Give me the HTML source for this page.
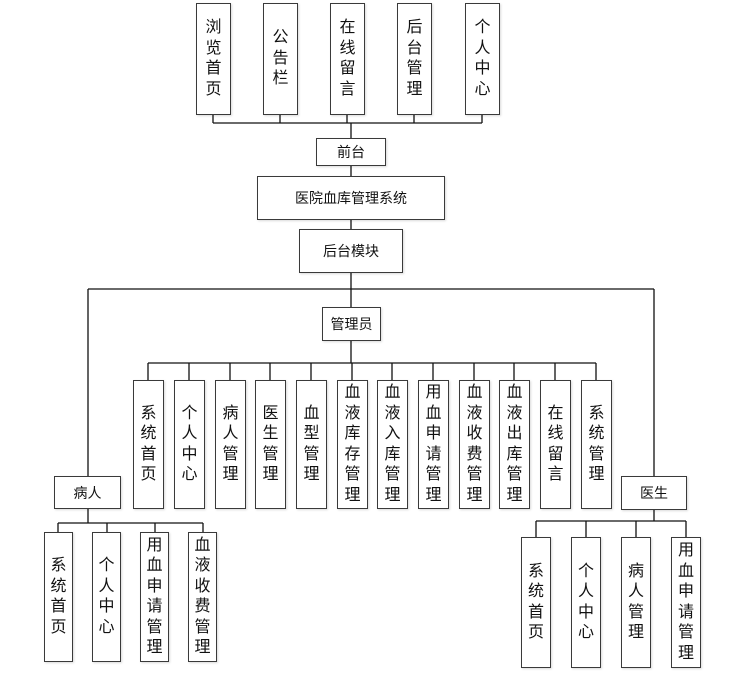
<!DOCTYPE html>
<html><head><meta charset="utf-8"><style>
html,body{margin:0;padding:0;background:#fff;}
body{width:746px;height:681px;position:relative;overflow:hidden;font-family:"Liberation Sans","Noto Sans CJK SC",sans-serif;color:#111;}
.b{position:absolute;box-sizing:border-box;border:1.5px solid #3a3a3a;background:#fff;display:flex;align-items:center;justify-content:center;text-align:center;box-shadow:1px 1px 2px rgba(0,0,0,0.15);}
.h{font-size:14px;}
.v{font-size:16px;line-height:20.5px;}
svg{position:absolute;left:0;top:0;}
</style></head><body>
<svg width="746" height="681" stroke="#111" stroke-width="1.3" fill="none">
<!-- top -->
<path d="M213 115V123M280 115V123M347 115V123M414 115V123M482 115V123M213 123H482M351 123V138"/>
<path d="M351 166V176M351 220V229M351 273V307"/>
<path d="M88 289H654M88 289V476M654 289V476"/>
<!-- admin -->
<path d="M351 341V363M148 363H596"/>
<path d="M148 363V380M189 363V380M230 363V380M270 363V380M311 363V380M352 363V380M392 363V380M433 363V380M474 363V380M514 363V380M555 363V380M596 363V380"/>
<!-- patient -->
<path d="M88 509V523M58 523H203M58 523V532M107 523V532M155 523V532M203 523V532"/>
<!-- doctor -->
<path d="M654 510V521M536 521H686M536 521V537M586 521V537M636 521V537M686 521V537"/>
</svg>

<div class="b v" style="left:196px;top:3px;width:35px;height:112px">浏<br>览<br>首<br>页</div>
<div class="b v" style="left:263px;top:3px;width:35px;height:112px">公<br>告<br>栏</div>
<div class="b v" style="left:330px;top:3px;width:35px;height:112px">在<br>线<br>留<br>言</div>
<div class="b v" style="left:397px;top:3px;width:35px;height:112px">后<br>台<br>管<br>理</div>
<div class="b v" style="left:465px;top:3px;width:35px;height:112px">个<br>人<br>中<br>心</div>

<div class="b h" style="left:316px;top:138px;width:70px;height:28px">前台</div>
<div class="b h" style="left:257px;top:176px;width:188px;height:44px">医院血库管理系统</div>
<div class="b h" style="left:299px;top:229px;width:104px;height:44px">后台模块</div>
<div class="b h" style="left:322px;top:307px;width:59px;height:34px">管理员</div>

<div class="b v" style="left:133px;top:380px;width:31px;height:129px">系<br>统<br>首<br>页</div>
<div class="b v" style="left:174px;top:380px;width:31px;height:129px">个<br>人<br>中<br>心</div>
<div class="b v" style="left:215px;top:380px;width:31px;height:129px">病<br>人<br>管<br>理</div>
<div class="b v" style="left:255px;top:380px;width:31px;height:129px">医<br>生<br>管<br>理</div>
<div class="b v" style="left:296px;top:380px;width:31px;height:129px">血<br>型<br>管<br>理</div>
<div class="b v" style="left:337px;top:380px;width:31px;height:129px">血<br>液<br>库<br>存<br>管<br>理</div>
<div class="b v" style="left:377px;top:380px;width:31px;height:129px">血<br>液<br>入<br>库<br>管<br>理</div>
<div class="b v" style="left:418px;top:380px;width:31px;height:129px">用<br>血<br>申<br>请<br>管<br>理</div>
<div class="b v" style="left:459px;top:380px;width:31px;height:129px">血<br>液<br>收<br>费<br>管<br>理</div>
<div class="b v" style="left:499px;top:380px;width:31px;height:129px">血<br>液<br>出<br>库<br>管<br>理</div>
<div class="b v" style="left:540px;top:380px;width:31px;height:129px">在<br>线<br>留<br>言</div>
<div class="b v" style="left:581px;top:380px;width:31px;height:129px">系<br>统<br>管<br>理</div>

<div class="b h" style="left:54px;top:476px;width:67px;height:33px">病人</div>
<div class="b v" style="left:44px;top:532px;width:29px;height:130px">系<br>统<br>首<br>页</div>
<div class="b v" style="left:92px;top:532px;width:29px;height:130px">个<br>人<br>中<br>心</div>
<div class="b v" style="left:140px;top:532px;width:29px;height:130px">用<br>血<br>申<br>请<br>管<br>理</div>
<div class="b v" style="left:188px;top:532px;width:29px;height:130px">血<br>液<br>收<br>费<br>管<br>理</div>

<div class="b h" style="left:621px;top:476px;width:66px;height:34px">医生</div>
<div class="b v" style="left:521px;top:537px;width:30px;height:131px">系<br>统<br>首<br>页</div>
<div class="b v" style="left:571px;top:537px;width:30px;height:131px">个<br>人<br>中<br>心</div>
<div class="b v" style="left:621px;top:537px;width:30px;height:131px">病<br>人<br>管<br>理</div>
<div class="b v" style="left:671px;top:537px;width:30px;height:131px">用<br>血<br>申<br>请<br>管<br>理</div>
</body></html>
